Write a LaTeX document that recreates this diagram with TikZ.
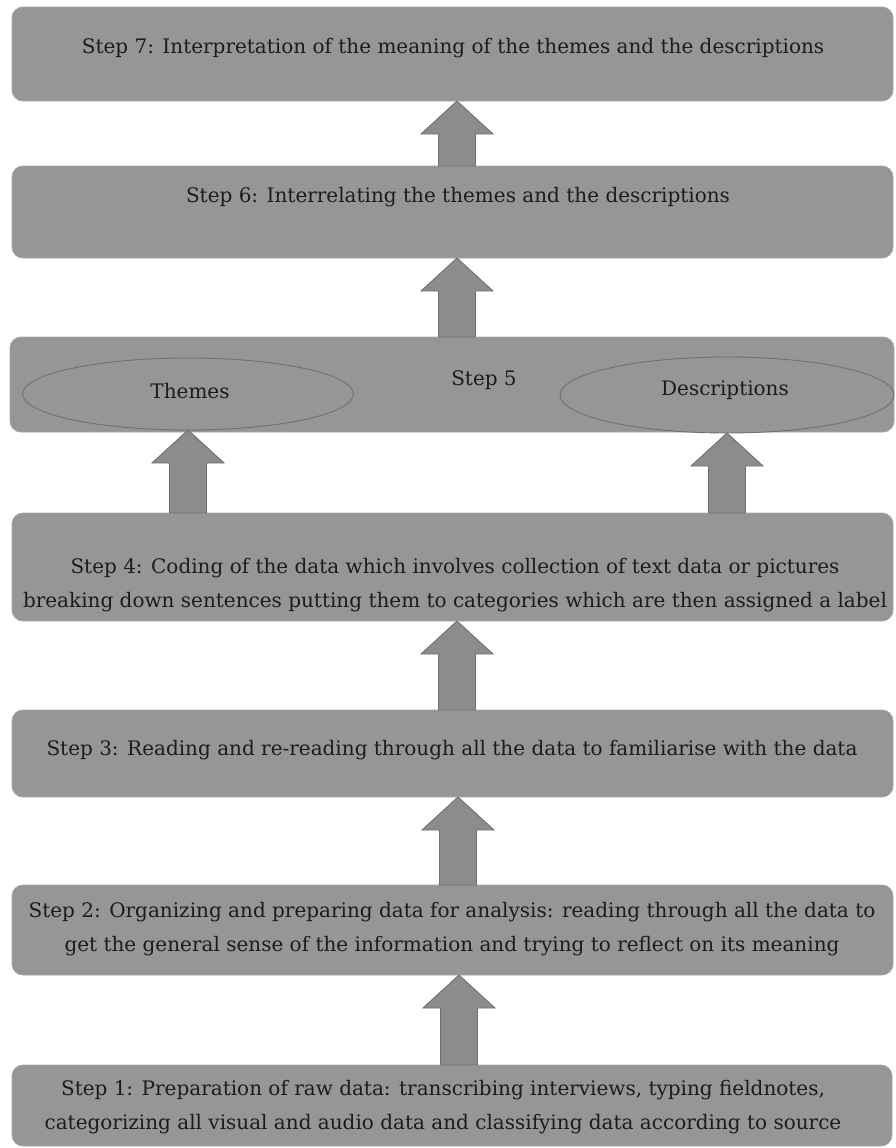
\documentclass[tikz,border=0pt]{standalone}
\usepackage{fontspec}
\setmainfont{DejaVu Serif}
\usetikzlibrary{calc,shapes.geometric}

\definecolor{boxgray}{RGB}{150,150,150}
\definecolor{arrowgray}{RGB}{140,140,140}
\definecolor{edgegray}{RGB}{112,112,112}
\definecolor{inkcol}{RGB}{28,28,28}

\tikzset{
  stepbox/.style={draw=boxgray!85!white, line width=0.8pt, fill=boxgray,
    rounded corners=11pt, inner sep=0pt},
  steptext/.style={text=inkcol, font=\fontsize{20}{34}\selectfont,
    align=center, inner sep=0pt},
  oval/.style={ellipse, draw=edgegray, line width=0.9pt, fill=boxgray,
    inner sep=0pt},
  blk/.style={fill=arrowgray, draw=edgegray, line width=0.9pt, line join=miter},
}

% block arrow pointing up: #1 lower node, #2 upper node, #3 x position
\newcommand\blockup[3]{%
  \path (#3,0 |- #1.north) coordinate (ab) (#3,0 |- #2.south) coordinate (at);
  \draw[blk] let \p1=(ab), \p2=(at) in
    (\x1-18.5pt,\y1) -- (\x1-18.5pt,\y2-33pt) -- (\x1-36pt,\y2-33pt) --
    (\x2,\y2) -- (\x1+36pt,\y2-33pt) -- (\x1+18.5pt,\y2-33pt) --
    (\x1+18.5pt,\y1) -- cycle;
}

\begin{document}
\begin{tikzpicture}[x=1pt,y=-1pt]
\useasboundingbox (0,0) rectangle (896,1148);

% step boxes (top to bottom)
\draw[stepbox] (12,7)    rectangle (893,101)  node[pos=0.5] (b7) {};
\draw[stepbox] (12,166)  rectangle (893,258)  node[pos=0.5] (b6) {};
\draw[stepbox] (10,337)  rectangle (894,432)  node[pos=0.5] (b5) {};
\draw[stepbox] (12,513)  rectangle (893,621)  node[pos=0.5] (b4) {};
\draw[stepbox] (12,710)  rectangle (893,797)  node[pos=0.5] (b3) {};
\draw[stepbox] (12,885)  rectangle (893,975)  node[pos=0.5] (b2) {};
\draw[stepbox] (12,1065) rectangle (892,1146) node[pos=0.5] (b1) {};

% named edges of the boxes for the connectors
\coordinate (b7s) at (452,101);
\coordinate (b6n) at (452,166);
\coordinate (b6s) at (452,258);
\coordinate (b5n) at (452,337);
\coordinate (b4n) at (452,513);
\coordinate (b4s) at (452,621);
\coordinate (b3n) at (452,710);
\coordinate (b3s) at (452,797);
\coordinate (b2n) at (452,885);
\coordinate (b2s) at (452,975);
\coordinate (b1n) at (452,1065);

% ellipses inside step 5
\node[oval, minimum width=331pt, minimum height=72pt] (themes) at (188,394) {};
\node[oval, minimum width=334pt, minimum height=76pt] (descr) at (727,395) {};
\coordinate (themesS) at (188,430);
\coordinate (descrS) at (727,433);

% texts
\node[steptext] (t7) at (453,48)
  {Step 7: Interpretation of the meaning of the themes and the descriptions};
\node[steptext] (t6) at (458,197)
  {Step 6: Interrelating the themes and the descriptions};
\node[steptext] (t5) at (484,380) {Step 5};
\node[steptext] (th) at (190,391) {Themes};
\node[steptext] (ds) at (725,390) {Descriptions};
\node[steptext] (t4) at (455,585)
  {Step 4: Coding of the data which involves collection of text data or pictures\\
   breaking down sentences putting them to categories which are then assigned a label};
\node[steptext] (t3) at (452,750)
  {Step 3: Reading and re-reading through all the data to familiarise with the data};
\node[steptext] (t2) at (452,929)
  {Step 2: Organizing and preparing data for analysis: reading through all the data to\\
   get the general sense of the information and trying to reflect on its meaning};
\node[steptext] (t1) at (443,1107)
  {Step 1: Preparation of raw data: transcribing interviews, typing fieldnotes,\\
   categorizing all visual and audio data and classifying data according to source};

% connectors
\blockup{b6n}{b7s}{457}
\blockup{b5n}{b6s}{457}
\blockup{b4n}{themesS}{188}
\blockup{b4n}{descrS}{727}
\blockup{b3n}{b4s}{457}
\blockup{b2n}{b3s}{458}
\blockup{b1n}{b2s}{459}
\end{tikzpicture}
\end{document}
